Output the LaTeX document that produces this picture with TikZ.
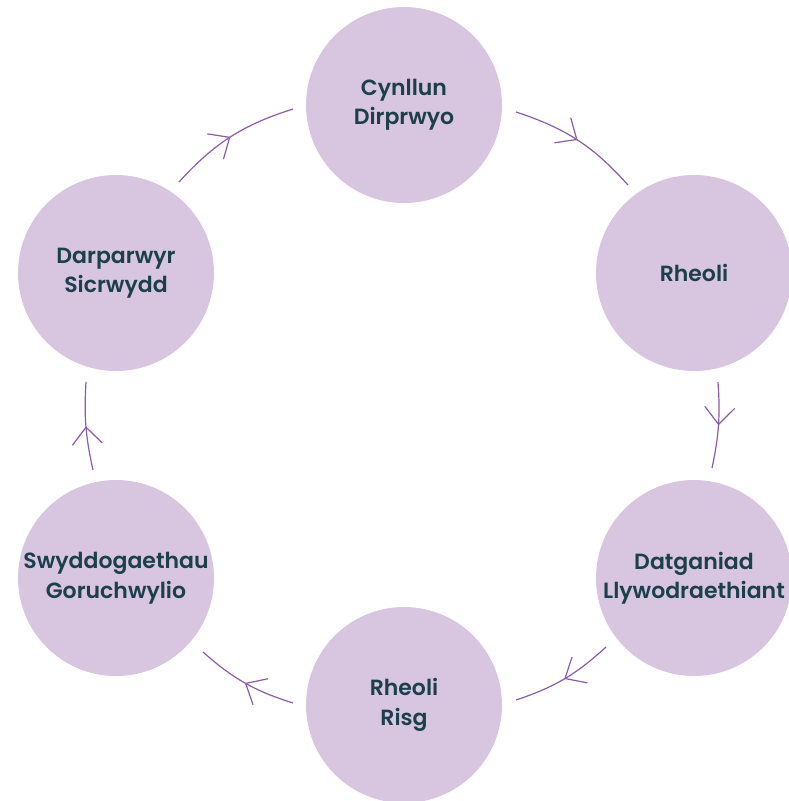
\documentclass[tikz,border=0pt]{standalone}
\usepackage{fontspec}
\setmainfont{Poppins}[UprightFont=* SemiBold]
\usetikzlibrary{arrows.meta,decorations.markings}
\definecolor{circfill}{HTML}{D8C6E0}
\definecolor{txtcol}{HTML}{1B3F4B}
\definecolor{arrcol}{HTML}{8B5BA8}
\tikzset{
  stage/.style={circle,fill=circfill,minimum size=196pt,inner sep=0pt,
    text=txtcol,align=center,font=\fontsize{22}{29.5}\selectfont},
  flow/.style={draw=arrcol,line width=1.2pt,
    postaction={decorate},
    decoration={markings,mark=at position 0.5 with {\arrow[arrcol,line width=1.2pt]{Straight Barb[length=17pt,width=30pt]}}}}
}
\begin{document}
\begin{tikzpicture}[x=1pt,y=-1pt]
\useasboundingbox (0,0) rectangle (789,801);
\node[stage] (plan) at (404,105) {Cynllun\\Dirprwyo};
\node[stage] (rheoli) at (694,273) {Rheoli};
\node[stage] (datg) at (694,578) {Datganiad\\Llywodraethiant};
\node[stage] (risg) at (404,705) {Rheoli\\Risg};
\node[stage] (swydd) at (116,578) {Swyddogaethau\\Goruchwylio};
\node[stage] (darp) at (116,273) {Darparwyr\\Sicrwydd};
\coordinate (a1) at (516,112); \coordinate (b1) at (628,185);
\coordinate (a2) at (718,382); \coordinate (b2) at (712,468);
\coordinate (a3) at (606,647); \coordinate (b3) at (516,700);
\coordinate (a4) at (293,703); \coordinate (b4) at (203,652);
\coordinate (a5) at (93,470);  \coordinate (b5) at (86,382);
\coordinate (a6) at (179,182); \coordinate (b6) at (293,109);
\draw[flow] (a1) to[bend left=15] (b1);
\draw[flow] (a2) to[bend left=8] (b2);
\draw[flow] (a3) to[bend left=12] (b3);
\draw[flow] (a4) to[bend left=12] (b4);
\draw[flow] (a5) to[bend left=8] (b5);
\draw[flow] (a6) to[bend left=15] (b6);
\end{tikzpicture}
\end{document}
